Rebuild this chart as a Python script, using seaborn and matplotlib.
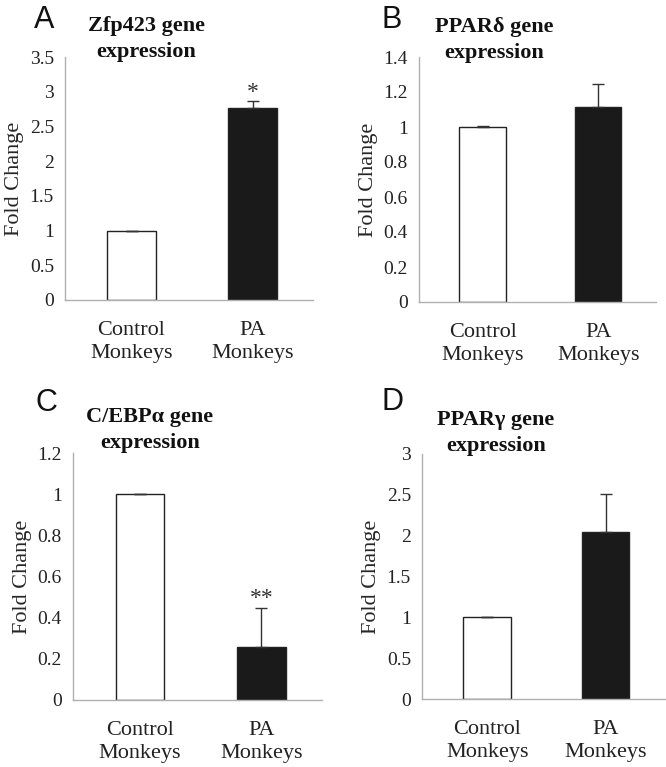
import matplotlib
matplotlib.use("Agg")
import matplotlib.pyplot as plt
import seaborn as sns
import pandas as pd

# data
groups = ["Control\nMonkeys", "PA\nMonkeys"]

zfp423 = [1.0, 2.77]
zfp423_err = [0.0, 0.09]

ppard = [1.0, 1.115]
ppard_err = [0.005, 0.13]

cebpa = [1.0, 0.257]
cebpa_err = [0.0, 0.19]

pparg = [1.0, 2.045]
pparg_err = [0.008, 0.465]

sns.set_theme(style="white")
plt.rcParams['font.family'] = ['Liberation Serif', 'DejaVu Serif']

W, H = 666, 767
fig = plt.figure(figsize=(W / 100, H / 100), dpi=100)


def px_axes(x0, x1, y0, y1):
    # pixel box (top-left origin) -> figure axes
    return fig.add_axes([x0 / W, 1 - y1 / H, (x1 - x0) / W, (y1 - y0) / H])


panels = [
    # letter, title, values, errors, ylim, step, star, box, letter pos, title centre
    ("A", "Zfp423 gene\nexpression", zfp423, zfp423_err, 3.5, 0.5, "*",
     (65, 313, 57, 300), (44, 20), (146, 39)),
    ("B", "PPAR\u03b4 gene\nexpression", ppard, ppard_err, 1.4, 0.2, "",
     (419, 656, 57, 302), (392, 20), (494, 40)),
    ("C", "C/EBP\u03b1 gene\nexpression", cebpa, cebpa_err, 1.2, 0.2, "**",
     (73, 322, 453, 700), (46, 403), (150, 430)),
    ("D", "PPAR\u03b3 gene\nexpression", pparg, pparg_err, 3.0, 0.5, "",
     (422, 665, 454, 699), (393, 402), (496, 433)),
]

for letter, title, vals, errs, ymax, step, star, box, lpos, tpos in panels:
    ax = px_axes(*box)
    df = pd.DataFrame({"group": groups, "value": vals})
    sns.barplot(data=df, x="group", y="value", hue="group",
                palette=["white", "#1a1a1a"], legend=False,
                width=0.4, ax=ax, edgecolor="#222222", linewidth=1.0)
    ax.errorbar(range(len(vals)), vals, yerr=[[0] * len(errs), errs],
                fmt="none", ecolor="#333333", elinewidth=1.0,
                capsize=4.5, capthick=1.0)
    if star:
        top = vals[1] + errs[1]
        ax.text(1, top - ymax * 0.005, star, ha="center", va="bottom",
                fontsize=17, color="#333333")

    ax.set_xlim(-0.55, 1.5)
    ax.set_ylim(0, ymax)
    ticks = [round(i * step, 2) for i in range(int(round(ymax / step)) + 1)]
    ax.set_yticks(ticks)
    ax.set_yticklabels([f"{t:g}" for t in ticks])
    ax.set_xlabel("")
    ax.set_ylabel("Fold Change", fontsize=16, labelpad=4)
    ax.tick_params(axis="y", length=0, pad=8, labelsize=14, colors="#222222")
    ax.tick_params(axis="x", length=0, pad=15, labelsize=16, colors="#222222")
    for lab in ax.get_xticklabels():
        lab.set_linespacing(1.3)

    for side in ["top", "right"]:
        ax.spines[side].set_visible(False)
    for side in ["left", "bottom"]:
        ax.spines[side].set_color("#b0b0b0")
        ax.spines[side].set_linewidth(1.0)

    fig.text(lpos[0] / W, 1 - lpos[1] / H, letter, ha="center", va="center",
             fontsize=22, family=["Liberation Sans", "DejaVu Sans"],
             color="#111111")
    fig.text(tpos[0] / W, 1 - tpos[1] / H, title, ha="center", va="center",
             fontsize=16, fontweight="bold", linespacing=1.4,
             color="#111111")

plt.savefig("out.png", dpi=100)
